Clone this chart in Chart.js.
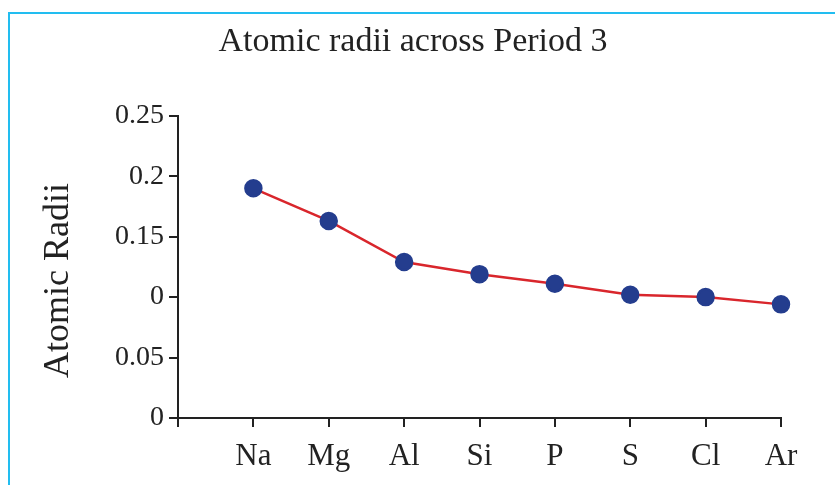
<!DOCTYPE html>
<html>
<head>
<meta charset="utf-8">
<script src="https://cdn.jsdelivr.net/npm/chart.js@4"></script>
<style>
  html, body { margin: 0; padding: 0; background: #fff; }
  #wrap { position: relative; width: 835px; height: 485px; overflow: hidden; }
  #frame {
    position: absolute; left: 8px; top: 12px; width: 900px; height: 600px;
    border-left: 2px solid #22bdf0; border-top: 2px solid #22bdf0;
  }
  #chart { position: absolute; left: 0; top: 0; }
</style>
</head>
<body>
<div id="wrap">
  <div id="frame"></div>
  <canvas id="chart" width="835" height="485"></canvas>
</div>
<script>
const elements = ["", "Na", "Mg", "Al", "Si", "P", "S", "Cl", "Ar"];
const radii = [null, 0.19, 0.163, 0.129, 0.119, 0.111, 0.102, 0.1, 0.094];
const yTickLabels = ["0", "0.05", "0", "0.15", "0.2", "0.25"];

const serif = "'Liberation Serif', 'Times New Roman', serif";
const ink = "#222222";

const ctx = document.querySelector("#chart").getContext("2d");

const data = {
  labels: elements,
  datasets: [
    {
      data: radii,
      borderColor: "#d9262c",
      borderWidth: 2.5,
      pointBackgroundColor: "#243d8e",
      pointBorderColor: "#243d8e",
      pointRadius: 8,
      pointHoverRadius: 8,
      tension: 0,
    },
  ],
};

const config = {
  type: "line",
  data: data,
  options: {
    responsive: false,
    animation: false,
    layout: {
      // left/right padding keeps the title centred where the original has it
      padding: { top: 0, right: 54, bottom: 0, left: 45 },
    },
    plugins: {
      legend: { display: false },
      tooltip: { enabled: false },
      title: {
        display: true,
        text: "Atomic radii across Period 3",
        color: ink,
        font: { family: serif, size: 34, weight: "normal" },
        padding: { top: 22, bottom: 53 },
      },
    },
    scales: {
      x: {
        offset: false,
        afterFit: (scale) => {
          scale.height = 67;
        },
        ticks: {
          color: ink,
          padding: 11,
          autoSkip: false,
          maxRotation: 0,
          font: { family: serif, size: 31 },
        },
        grid: {
          display: true,
          drawOnChartArea: false,
          drawTicks: true,
          tickLength: 9,
          color: ink,
          lineWidth: 2,
        },
        border: { display: true, color: ink, width: 2 },
      },
      y: {
        min: 0,
        max: 0.25,
        afterFit: (scale) => {
          scale.width = 133;
        },
        ticks: {
          stepSize: 0.05,
          color: ink,
          padding: 5,
          font: { family: serif, size: 28 },
          callback: (value, index) => yTickLabels[index],
        },
        title: {
          display: true,
          text: "Atomic Radii   ",
          color: ink,
          font: { family: serif, size: 36 },
          padding: { top: -8 },
        },
        grid: {
          display: true,
          drawOnChartArea: false,
          drawTicks: true,
          tickLength: 9,
          color: ink,
          lineWidth: 2,
        },
        border: { display: true, color: ink, width: 2 },
      },
    },
  },
};

const chart = new Chart(ctx, config);
</script>
</body>
</html>
